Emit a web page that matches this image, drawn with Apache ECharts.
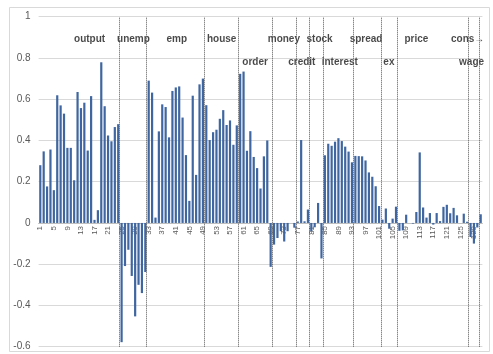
<!DOCTYPE html>
<html>
<head>
<meta charset="utf-8">
<script src="https://cdn.jsdelivr.net/npm/echarts@6/dist/echarts.min.js"></script>
<style>
  html, body { margin: 0; padding: 0; background: #fff; }
  #chart { width: 493px; height: 354px; }
</style>
</head>
<body>
<div id="chart"></div>
<script>
// Correlation of each indicator (numbered 1..131) with the target series
const categories = Array.from({ length: 131 }, (_, i) => String(i + 1));

const values = [
  0.280, 0.347, 0.177, 0.356, 0.159, 0.619, 0.570, 0.530, 0.364, 0.364,
  0.207, 0.635, 0.557, 0.583, 0.351, 0.615, 0.015, 0.062, 0.779, 0.566,
  0.424, 0.396, 0.465, 0.479, -0.578, -0.209, -0.130, -0.257, -0.453, -0.300,
  -0.340, -0.238, 0.690, 0.632, 0.026, 0.444, 0.575, 0.562, 0.415, 0.640,
  0.657, 0.662, 0.511, 0.329, 0.107, 0.617, 0.233, 0.672, 0.700, 0.571,
  0.402, 0.440, 0.452, 0.505, 0.547, 0.475, 0.497, 0.379, 0.473, 0.723,
  0.734, 0.350, 0.445, 0.320, 0.266, 0.167, 0.323, 0.400, -0.213, -0.105,
  -0.073, -0.040, -0.090, -0.040, 0.000, -0.023, 0.007, 0.402, 0.008, 0.065,
  -0.040, -0.021, 0.097, -0.172, 0.328, 0.384, 0.374, 0.394, 0.411, 0.397,
  0.370, 0.346, 0.294, 0.325, 0.324, 0.323, 0.303, 0.245, 0.224, 0.178,
  0.082, 0.016, 0.070, -0.028, 0.021, 0.079, -0.038, -0.036, 0.040, 0.000,
  -0.003, 0.053, 0.342, 0.075, 0.026, 0.048, -0.008, 0.048, 0.009, 0.078,
  0.088, 0.047, 0.073, 0.037, 0.000, 0.045, 0.006, -0.068, -0.100, -0.022,
  0.042
];

// Group separators, in indicator-number units
const dividers = [24.3, 32.3, 49.35, 59.4, 69.45, 76.45, 80.5, 84.5, 93.5, 101.6, 106.35, 127.45, 130.5];

// Group names and where they sit (indicator-number, correlation level)
const groupNames = ['output', 'unemp', 'emp', 'house', 'money', 'stock', 'spread', 'price', 'cons→',
                    'order', 'credit', 'interest', 'ex', 'wage'];
const groupX = [15.56, 28.5, 41.3, 54.55, 72.9, 83.45, 97.15, 112.0, 127.15,
                64.4, 78.2, 89.4, 103.9, 128.3];
const groupY = [0.89, 0.89, 0.89, 0.89, 0.89, 0.89, 0.89, 0.89, 0.89,
                0.78, 0.78, 0.78, 0.78, 0.78];

const yTicks = { min: -0.6, max: 1, step: 0.2 };

const gridTop = 16.7;
const gridBottom = 7.3;
const plotHeight = 354 - gridTop - gridBottom;
// lift the category axis from the bottom edge up to the zero line
const zeroLift = plotHeight * (0 - yTicks.min) / (yTicks.max - yTicks.min);

const chart = echarts.init(document.getElementById('chart'), null, { renderer: 'canvas' });

chart.setOption({
  animation: false,
  backgroundColor: '#ffffff',
  textStyle: { fontFamily: 'Liberation Sans, Arial, sans-serif' },
  graphic: [{
    type: 'rect',
    shape: { x: 9.5, y: 7.5, width: 480, height: 344 },
    style: { fill: 'none', stroke: '#d9d9d9', lineWidth: 1 },
    silent: true
  }],
  grid: {
    left: 38.6, right: 10.6, top: gridTop, bottom: gridBottom,
    containLabel: false,
    outerBoundsMode: 'none'
  },
  xAxis: [{
    type: 'category',
    data: categories,
    boundaryGap: true,
    position: 'bottom',
    offset: -zeroLift,
    axisLine: { show: true, onZero: false, lineStyle: { color: '#bfbfbf', width: 1 } },
    axisTick: { show: false },
    axisLabel: {
      interval: 3,
      rotate: 90,
      fontSize: 8,
      color: '#595959',
      margin: 3
    },
    splitLine: { show: false }
  }, {
    type: 'value',
    min: 0.5,
    max: categories.length + 0.5,
    show: false,
    axisLine: { onZero: false }
  }],
  yAxis: {
    type: 'value',
    min: yTicks.min,
    max: yTicks.max,
    interval: yTicks.step,
    axisLine: { show: false, onZero: false },
    axisTick: { show: false },
    axisLabel: {
      fontSize: 10,
      color: '#595959',
      margin: 8,
      formatter: v => String(+v.toFixed(1))
    },
    splitLine: { lineStyle: { color: '#d9d9d9', width: 1 } }
  },
  series: [{
    type: 'bar',
    xAxisIndex: 0,
    data: values,
    barCategoryGap: '35%',
    itemStyle: { color: '#3f66a0' },
    silent: true
  }, {
    type: 'scatter',
    xAxisIndex: 1,
    symbolSize: 0,
    silent: true,
    data: groupNames.map((n, i) => ({ name: n, value: [groupX[i], groupY[i]] })),
    label: {
      show: true,
      position: 'inside',
      formatter: '{b}',
      fontSize: 10,
      fontWeight: 'bold',
      color: '#1a1a1a',
      fontFamily: 'Liberation Sans, Arial, sans-serif'
    },
    markLine: {
      silent: true,
      symbol: ['none', 'none'],
      label: { show: false },
      lineStyle: { type: [1, 1], color: '#555555', width: 1 },
      data: dividers.map(d => ({ xAxis: d }))
    }
  }]
});
</script>
</body>
</html>
